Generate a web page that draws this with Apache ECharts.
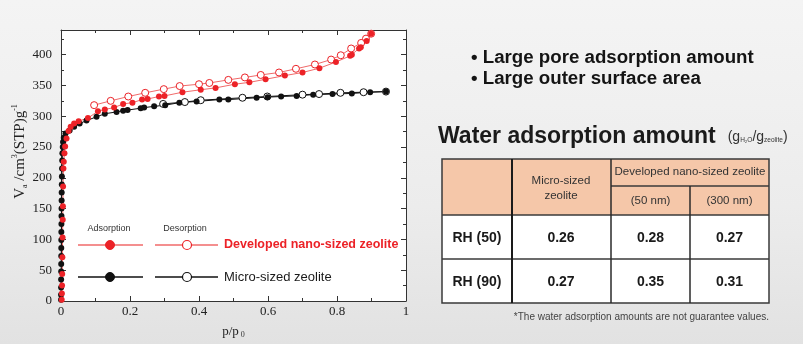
<!DOCTYPE html>
<html>
<head>
<meta charset="utf-8">
<script src="https://cdn.jsdelivr.net/npm/echarts@6/dist/echarts.min.js"></script>
<style>
  html, body { margin: 0; padding: 0; }
  #chart { width: 803px; height: 344px; background: linear-gradient(180deg, #f4f4f4 0%, #ececec 60%, #e2e2e2 100%); }
</style>
</head>
<body>
<div id="chart"></div>
<script>
// N2 isotherms, [p/p0, Va (cm3(STP)/g)]
const nanoAdsorption = [
  [0.002, 2], [0.0025, 12], [0.003, 25], [0.0035, 44], [0.004, 71], [0.0045, 103],
  [0.005, 132], [0.0055, 154], [0.006, 186], [0.007, 215], [0.008, 226], [0.01, 240],
  [0.012, 251], [0.016, 264], [0.022, 276], [0.028, 283], [0.038, 288], [0.051, 292],
  [0.078, 297], [0.107, 308], [0.127, 311], [0.154, 314], [0.18, 320], [0.207, 322],
  [0.235, 327], [0.251, 328], [0.284, 332], [0.30, 333], [0.352, 339], [0.405, 343],
  [0.448, 346], [0.504, 352], [0.546, 355], [0.593, 360], [0.649, 366], [0.70, 371],
  [0.749, 378], [0.797, 388], [0.838, 398], [0.843, 400], [0.864, 410], [0.869, 412],
  [0.886, 422], [0.899, 434]
];
const nanoDesorption = [
  [0.899, 434], [0.884, 426], [0.87, 419], [0.841, 410], [0.811, 399], [0.783, 392],
  [0.736, 384], [0.681, 377], [0.632, 371], [0.579, 367], [0.533, 363], [0.485, 359],
  [0.43, 354], [0.40, 352], [0.344, 349], [0.298, 344], [0.244, 338], [0.195, 332],
  [0.144, 325], [0.096, 318]
];
const microAdsorption = [
  [0.0001, 2], [0.0002, 10], [0.0003, 22], [0.0004, 35], [0.0005, 48], [0.0006, 60],
  [0.0007, 73], [0.0008, 86], [0.0009, 99], [0.001, 112], [0.0012, 125], [0.0014, 138],
  [0.0016, 150], [0.0018, 163], [0.002, 176], [0.0023, 189], [0.0026, 202], [0.003, 215],
  [0.0035, 228], [0.004, 240], [0.005, 250], [0.006, 258], [0.008, 265], [0.013, 272],
  [0.025, 277], [0.038, 283], [0.054, 288], [0.074, 293], [0.103, 299], [0.127, 304],
  [0.161, 307], [0.18, 309], [0.193, 310], [0.231, 313], [0.241, 314], [0.27, 316],
  [0.302, 318], [0.343, 322], [0.393, 324], [0.459, 327], [0.485, 327], [0.567, 330],
  [0.599, 331], [0.638, 332], [0.683, 333], [0.731, 335], [0.787, 336], [0.843, 337],
  [0.896, 339], [0.942, 340]
];
const microDesorption = [
  [0.942, 340], [0.877, 339], [0.81, 338], [0.748, 336], [0.70, 335], [0.598, 332],
  [0.526, 330], [0.405, 326], [0.359, 323], [0.296, 320]
];

// Water uptake table (g H2O / g zeolite)
const rhLabels = ['RH (50)', 'RH (90)'];
const microWater = ['0.26', '0.27'];
const nano50Water = ['0.28', '0.35'];
const nano300Water = ['0.27', '0.31'];

const xTicks = { min: 0, max: 1, interval: 0.2 };
const yTicks = { min: 0, max: 440, interval: 50 };

const RED = '#ec2227';
const RED_LINE = '#f06a6a';
const BLACK = '#111111';
const SANS = '"Liberation Sans", Arial, sans-serif';
const SERIF = '"Liberation Serif", "Times New Roman", serif';

const chart = echarts.init(document.getElementById('chart'), null, { renderer: 'canvas' });

function axisX(pos, showLabel) {
  return {
    type: 'value', position: pos, min: xTicks.min, max: xTicks.max, interval: xTicks.interval,
    axisLine: { show: true, onZero: false, lineStyle: { color: '#333', width: 1 } },
    axisTick: { show: true, inside: true, length: 5, lineStyle: { color: '#333' } },
    minorTick: { show: true, splitNumber: 2, length: 3, lineStyle: { color: '#333' } },
    splitLine: { show: false },
    axisLabel: {
      show: showLabel, margin: 4, color: '#222', fontFamily: SERIF, fontSize: 13,
      formatter: v => (v === 0 || v === 1) ? String(v) : v.toFixed(1)
    },
    name: showLabel ? '{p|p/p}{s| 0}' : '',
    nameLocation: 'middle', nameGap: 24,
    nameTextStyle: {
      rich: {
        p: { fontFamily: SERIF, fontSize: 13, color: '#222', lineHeight: 14 },
        s: { fontFamily: SERIF, fontSize: 8, color: '#333', verticalAlign: 'bottom', lineHeight: 14 }
      }
    }
  };
}
function axisY(pos, showLabel) {
  return {
    type: 'value', position: pos, min: yTicks.min, max: yTicks.max, interval: yTicks.interval,
    axisLine: { show: true, onZero: false, lineStyle: { color: '#333', width: 1 } },
    axisTick: { show: true, inside: true, length: 5, lineStyle: { color: '#333' } },
    minorTick: { show: true, splitNumber: 2, length: 3, lineStyle: { color: '#333' } },
    splitLine: { show: false },
    axisLabel: { show: showLabel, showMaxLabel: false, margin: 9, color: '#222', fontFamily: SERIF, fontSize: 13 },
    name: showLabel ? '{v|V}{sb|a}{t| /cm}{sp|3}{t|(STP)g}{sp|-1}' : '',
    nameLocation: 'middle', nameGap: 23, nameRotate: 90,
    nameTextStyle: {
      padding: [0, 0, 0, 28],
      rich: {
        v: { fontFamily: SERIF, fontSize: 15, color: '#222', lineHeight: 18 },
        t: { fontFamily: SERIF, fontSize: 15, color: '#222', lineHeight: 18 },
        sb: { fontFamily: SERIF, fontSize: 8, color: '#222', verticalAlign: 'bottom', lineHeight: 16 },
        sp: { fontFamily: SERIF, fontSize: 8, color: '#222', verticalAlign: 'top', lineHeight: 18 }
      }
    }
  };
}

function isoSeries(name, data, filled, color, lineColor) {
  return {
    name, type: 'line', data, xAxisIndex: 0, yAxisIndex: 0,
    symbol: 'circle', symbolSize: filled ? 6 : 7, showAllSymbol: true,
    lineStyle: { color: lineColor, width: 1 },
    itemStyle: filled ? { color: color, borderColor: color, borderWidth: 0 }
                      : { color: '#ffffff', borderColor: color, borderWidth: 1 },
    emphasis: { disabled: true }, animation: false, clip: true
  };
}

// Legend glyphs inside the plot area
function legendRow(y, color, lineColor, textColor, label, font) {
  return [
    { type: 'line', shape: { x1: 78, y1: y, x2: 143, y2: y }, style: { stroke: lineColor, lineWidth: 1.5 }, z: 100 },
    { type: 'circle', shape: { cx: 110, cy: y, r: 4.5 }, style: { fill: color, stroke: color, lineWidth: 1 }, z: 101 },
    { type: 'line', shape: { x1: 155, y1: y, x2: 218, y2: y }, style: { stroke: lineColor, lineWidth: 1.5 }, z: 100 },
    { type: 'circle', shape: { cx: 187, cy: y, r: 4.5 }, style: { fill: '#fff', stroke: color, lineWidth: 1.2 }, z: 101 },
    { type: 'text', x: 224, y: y, style: { text: label, fill: textColor, font: font, verticalAlign: 'middle' }, z: 101 }
  ];
}

// Water adsorption table on the right
const colX = [442, 512, 611, 690, 769];
const rowY = [159, 215, 259, 303];
const table = [];
table.push({ type: 'rect', shape: { x: colX[0], y: rowY[0], width: colX[4] - colX[0], height: rowY[1] - rowY[0] }, style: { fill: '#f5c7a9' } });
table.push({ type: 'rect', shape: { x: colX[0], y: rowY[1], width: colX[4] - colX[0], height: rowY[3] - rowY[1] }, style: { fill: '#ffffff' } });
table.push({ type: 'rect', shape: { x: colX[0], y: rowY[0], width: colX[4] - colX[0], height: rowY[3] - rowY[0] }, style: { fill: 'none', stroke: '#3a3a3a', lineWidth: 1.5 }, z: 10 });
[rowY[1], rowY[2]].forEach(y => table.push({ type: 'line', shape: { x1: colX[0], y1: y, x2: colX[4], y2: y }, style: { stroke: '#3a3a3a', lineWidth: 1.5 }, z: 10 }));
table.push({ type: 'line', shape: { x1: colX[2], y1: 186, x2: colX[4], y2: 186 }, style: { stroke: '#3a3a3a', lineWidth: 1.5 }, z: 10 });
table.push({ type: 'line', shape: { x1: colX[1], y1: rowY[0], x2: colX[1], y2: rowY[3] }, style: { stroke: '#1a1a1a', lineWidth: 2 }, z: 10 });
table.push({ type: 'line', shape: { x1: colX[2], y1: rowY[0], x2: colX[2], y2: rowY[3] }, style: { stroke: '#2a2a2a', lineWidth: 1.5 }, z: 10 });
table.push({ type: 'line', shape: { x1: colX[3], y1: 186, x2: colX[3], y2: rowY[3] }, style: { stroke: '#2a2a2a', lineWidth: 1.5 }, z: 10 });

function cellText(x, y, text, font, fill) {
  return { type: 'text', x, y, style: { text, font, fill: fill || '#333', align: 'center', verticalAlign: 'middle' }, z: 11 };
}
const headFont = '11.5px ' + SANS;
table.push(cellText(561, 181, 'Micro-sized', headFont));
table.push(cellText(561, 196, 'zeolite', headFont));
table.push(cellText(690, 172, 'Developed nano-sized zeolite', headFont));
table.push(cellText(650.5, 201, '(50 nm)', headFont));
table.push(cellText(729.5, 201, '(300 nm)', headFont));
const cellFont = 'bold 14px ' + SANS;
rhLabels.forEach((lab, i) => {
  const cy = (rowY[i + 1] + rowY[i + 2]) / 2 + 1;
  table.push(cellText(477, cy, lab, cellFont, '#1a1a1a'));
  table.push(cellText(561, cy, microWater[i], cellFont, '#1a1a1a'));
  table.push(cellText(650.5, cy, nano50Water[i], cellFont, '#1a1a1a'));
  table.push(cellText(729.5, cy, nano300Water[i], cellFont, '#1a1a1a'));
});

const notes = [
  { type: 'text', x: 471, y: 58, style: { text: '\u2022 Large pore adsorption amount', font: 'bold 18.7px ' + SANS, fill: '#141414', verticalAlign: 'middle' } },
  { type: 'text', x: 471, y: 79, style: { text: '\u2022 Large outer surface area', font: 'bold 18.7px ' + SANS, fill: '#141414', verticalAlign: 'middle' } },
  { type: 'text', x: 438, y: 137, style: {
      text: '{h|Water adsorption amount}{g|}{u|(g}{s|H\u2082O}{u|/g}{s|zeolite}{u|)}',
      verticalAlign: 'middle',
      rich: {
        h: { font: 'bold 23px ' + SANS, fill: '#1a1a1a', lineHeight: 26 },
        g: { width: 12, lineHeight: 26 },
        u: { font: '14px ' + SANS, fill: '#333', lineHeight: 26 },
        s: { font: '6.5px ' + SANS, fill: '#333', lineHeight: 26, verticalAlign: 'bottom', padding: [0, 0, 6, 0] }
      }
  } },
  { type: 'text', x: 769, y: 317, style: { text: '*The water adsorption amounts are not guarantee values.', font: '10px ' + SANS, fill: '#444', align: 'right', verticalAlign: 'middle' } },
  { type: 'text', x: 109, y: 229, style: { text: 'Adsorption', font: '9px ' + SANS, fill: '#333', align: 'center', verticalAlign: 'middle' }, z: 101 },
  { type: 'text', x: 185, y: 229, style: { text: 'Desorption', font: '9px ' + SANS, fill: '#333', align: 'center', verticalAlign: 'middle' }, z: 101 }
];

const option = {
  backgroundColor: 'transparent',
  animation: false,
  grid: { left: 61, right: 397, top: 30, bottom: 40, show: true, backgroundColor: '#ffffff', borderWidth: 0 },
  xAxis: [axisX('bottom', true), axisX('top', false)],
  yAxis: [axisY('left', true), axisY('right', false)],
  series: [
    isoSeries('Micro-sized zeolite (desorption)', microDesorption, false, BLACK, BLACK),
    isoSeries('Developed nano-sized zeolite (desorption)', nanoDesorption, false, RED, RED_LINE),
    isoSeries('Micro-sized zeolite (adsorption)', microAdsorption, true, BLACK, BLACK),
    isoSeries('Developed nano-sized zeolite (adsorption)', nanoAdsorption, true, RED, RED_LINE)
  ],
  graphic: [
    ...legendRow(245, RED, RED_LINE, RED, 'Developed nano-sized zeolite', 'bold 12.5px ' + SANS),
    ...legendRow(277, BLACK, BLACK, '#1a1a1a', 'Micro-sized zeolite', '13px ' + SANS),
    ...table,
    ...notes
  ]
};
chart.setOption(option);
</script>
</body>
</html>
